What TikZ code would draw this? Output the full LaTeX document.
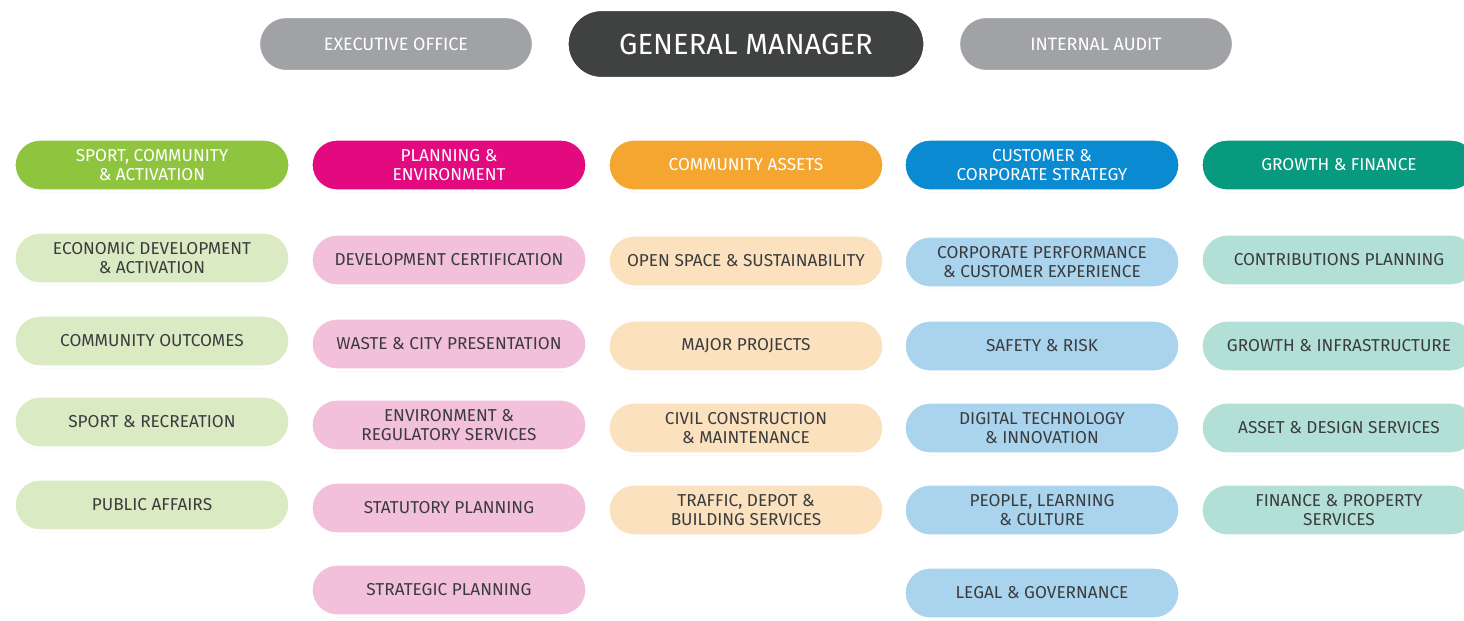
\documentclass[tikz,border=0pt]{standalone}
\usepackage{fontspec}
\setmainfont{Fira Sans}
\usetikzlibrary{shadows}
\definecolor{gmgray}{HTML}{404242}
\definecolor{sidegray}{HTML}{A0A2A5}
\definecolor{sportc}{HTML}{8FC43F}
\definecolor{sportl}{HTML}{DAEBC4}
\definecolor{planc}{HTML}{E20A7E}
\definecolor{planl}{HTML}{F2C0DA}
\definecolor{assetc}{HTML}{F4A630}
\definecolor{assetl}{HTML}{FCE1BF}
\definecolor{custc}{HTML}{0A8AD0}
\definecolor{custl}{HTML}{AAD4EE}
\definecolor{growc}{HTML}{079A7F}
\definecolor{growl}{HTML}{B3E0D6}
\definecolor{unittext}{HTML}{3A3C3E}
\tikzset{
pill/.style={draw=white, line width=1.8pt, rounded corners=0.52cm,
  minimum width=5.52cm, minimum height=1.04cm, align=center,
  inner sep=0pt, font=\fontsize{9.8}{10.8}\selectfont,
  drop shadow={shadow xshift=0pt, shadow yshift=-0.8pt, opacity=0.18, fill=black}},
head/.style={pill, text=white},
unit/.style={pill, text=unittext},
side/.style={pill, fill=sidegray, text=white, minimum width=5.5cm,
  minimum height=1.1cm, rounded corners=0.55cm, font=\fontsize{10.2}{12}\selectfont},
}

\begin{document}
\begin{tikzpicture}[x=0.02cm, y=-0.02cm]
    \useasboundingbox (0,0) rectangle (1464,620);
    \clip (0,0) rectangle (1464,620);

    %top row
    \node[side] (exec) at (396,44) {EXECUTIVE OFFICE};
    \node[pill, fill=gmgray, text=white, minimum width=7.16cm, minimum height=1.38cm,
          rounded corners=0.69cm, font=\fontsize{16.6}{18}\selectfont] (gm) at (746,44) {GENERAL MANAGER};
    \node[side] (audit) at (1096,44) {INTERNAL AUDIT};

    %column 1
    \node[head, fill=sportc] (sport) at (152,165) {SPORT, COMMUNITY\\\& ACTIVATION};
    \node[unit, fill=sportl] (econ)  at (152,258) {ECONOMIC DEVELOPMENT\\\& ACTIVATION};
    \node[unit, fill=sportl] (outc)  at (152,341) {COMMUNITY OUTCOMES};
    \node[unit, fill=sportl] (recr)  at (152,422) {SPORT \& RECREATION};
    \node[unit, fill=sportl] (publ)  at (152,505) {PUBLIC AFFAIRS};

    %column 2
    \node[head, fill=planc] (plan)  at (449,165) {PLANNING \&\\ENVIRONMENT};
    \node[unit, fill=planl] (devc)  at (449,260) {DEVELOPMENT CERTIFICATION};
    \node[unit, fill=planl] (waste) at (449,344) {WASTE \& CITY PRESENTATION};
    \node[unit, fill=planl] (envr)  at (449,425) {ENVIRONMENT \&\\REGULATORY SERVICES};
    \node[unit, fill=planl] (stat)  at (449,508) {STATUTORY PLANNING};
    \node[unit, fill=planl] (strat) at (449,590) {STRATEGIC PLANNING};

    %column 3
    \node[head, fill=assetc] (asset) at (746,165) {COMMUNITY ASSETS};
    \node[unit, fill=assetl] (open)  at (746,261) {OPEN SPACE \& SUSTAINABILITY};
    \node[unit, fill=assetl] (major) at (746,346) {MAJOR PROJECTS};
    \node[unit, fill=assetl] (civil) at (746,428) {CIVIL CONSTRUCTION\\\& MAINTENANCE};
    \node[unit, fill=assetl] (depot) at (746,510) {TRAFFIC, DEPOT \&\\BUILDING SERVICES};

    %column 4
    \node[head, fill=custc] (cust)  at (1042,165) {CUSTOMER \&\\CORPORATE STRATEGY};
    \node[unit, fill=custl] (perf)  at (1042,262) {CORPORATE PERFORMANCE\\\& CUSTOMER EXPERIENCE};
    \node[unit, fill=custl] (risk)  at (1042,346) {SAFETY \& RISK};
    \node[unit, fill=custl] (digi)  at (1042,428) {DIGITAL TECHNOLOGY\\\& INNOVATION};
    \node[unit, fill=custl] (people) at (1042,510) {PEOPLE, LEARNING\\\& CULTURE};
    \node[unit, fill=custl] (legal) at (1042,593) {LEGAL \& GOVERNANCE};

    %column 5
    \node[head, fill=growc] (grow)  at (1339,165) {GROWTH \& FINANCE};
    \node[unit, fill=growl] (contr) at (1339,260) {CONTRIBUTIONS PLANNING};
    \node[unit, fill=growl] (infra) at (1339,346) {GROWTH \& INFRASTRUCTURE};
    \node[unit, fill=growl] (design) at (1339,428) {ASSET \& DESIGN SERVICES};
    \node[unit, fill=growl] (fin)   at (1339,510) {FINANCE \& PROPERTY\\SERVICES};
\end{tikzpicture}
\end{document}
